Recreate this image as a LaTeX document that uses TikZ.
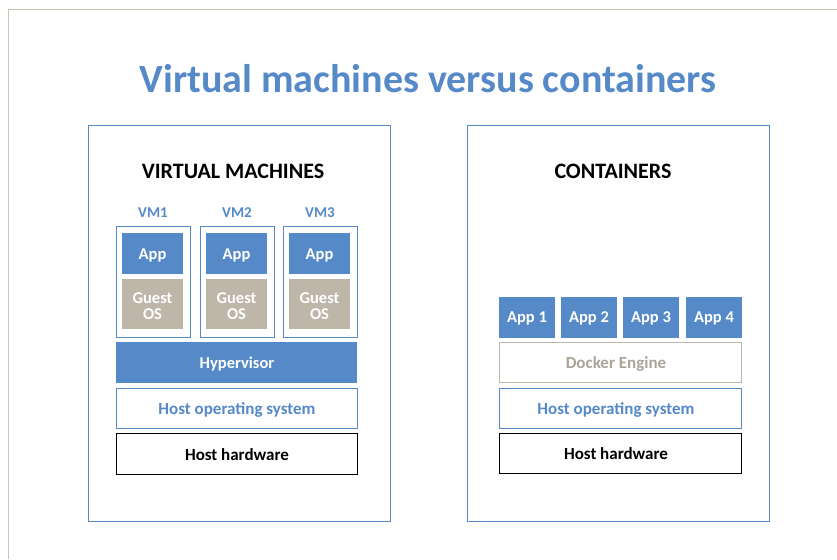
\documentclass[tikz,border=0pt]{standalone}
\usepackage{fontspec}
\setmainfont{Carlito}
\definecolor{vmblue}{HTML}{5589C8}
\definecolor{beige}{HTML}{BDB6A9}
\definecolor{frame}{HTML}{CBC5B8}
\begin{document}
\begin{tikzpicture}[x=1pt,y=-1pt,
  panel/.style={draw=vmblue,line width=1pt},
  layer/.style={draw=vmblue,line width=1pt},
  bluebox/.style={text=white,font=\bfseries\fontsize{16.5}{16}\selectfont,align=center},
  guestbox/.style={text=white,font=\bfseries\fontsize{16.5}{16}\selectfont,align=center},
  lbl/.style={font=\bfseries\fontsize{17}{18}\selectfont},
  head/.style={font=\bfseries\fontsize{22}{24}\selectfont,text=black},
  vmlbl/.style={font=\bfseries\fontsize{15}{16}\selectfont,text=vmblue}]
\useasboundingbox (0,0) rectangle (837,559);
\fill[white] (0,0) rectangle (837,559);
\draw[frame,line width=1.5pt] (8.5,559) -- (8.5,9.5) -- (837,9.5);
\node[font=\bfseries\fontsize{40}{42}\selectfont,text=vmblue] (title) at (428,79) {Virtual machines versus containers};
% panels
\draw[panel] (88,125) rectangle (390,521);
\draw[panel] (467,125) rectangle (769,521);
\node[head] (vmhead) at (233,171) {VIRTUAL MACHINES};
\node[head] (cthead) at (613,171) {CONTAINERS};
% VMs
\foreach \i/\x in {1/116,2/200,3/283}{
  \draw[layer] (\x,226) rectangle ++(74,111);
  \node[vmlbl] (vm\i) at (\x+37,213) {VM\i};
  \fill[vmblue] (\x+6,233) rectangle ++(61,41);
  \node[bluebox] (app\i) at (\x+36.5,255) {App};
  \fill[beige] (\x+6,279) rectangle ++(61,50);
  \node[guestbox] (guest\i) at (\x+36.5,306) {Guest\\OS};
}
\fill[vmblue] (116,342) rectangle (357,383);
\node[bluebox] (hyp) at (237,364) {Hypervisor};
\draw[layer] (116,388) rectangle (357,428);
\node[lbl,text=vmblue] (hos1) at (237,409.5) {Host operating system};
\draw[black,line width=1pt] (116,433) rectangle (357,474);
\node[lbl,text=black] (hhw1) at (237,454.5) {Host hardware};
% containers
\foreach \i/\x in {1/499,2/561,3/623,4/686}{
  \fill[vmblue] (\x,297) rectangle ++(56,41);
  \node[bluebox] (capp\i) at (\x+28,318.5) {App \i};
}
\draw[beige,line width=1pt] (499,342) rectangle (741,382);
\node[lbl,text=beige!90!black] (docker) at (616,363.5) {Docker Engine};
\draw[layer] (499,388) rectangle (741,428);
\node[lbl,text=vmblue] (hos2) at (616,409.5) {Host operating system};
\draw[black,line width=1pt] (499,433) rectangle (741,473);
\node[lbl,text=black] (hhw2) at (616,454) {Host hardware};
\end{tikzpicture}
\end{document}
